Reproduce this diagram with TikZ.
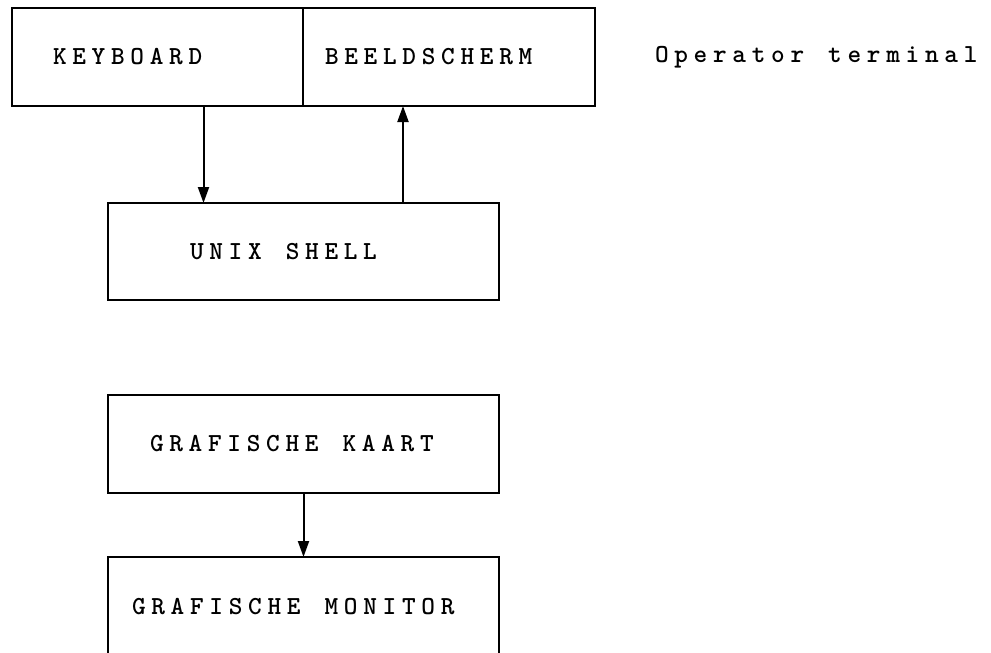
\documentclass[tikz,border=0pt]{standalone}
\usepackage{fontspec}
\usepackage{tikz}
\usetikzlibrary{arrows.meta,positioning}
\newfontfamily\typmachine{lmmonolt10-bold}[Extension=.otf,LetterSpace=22]
\newcommand{\tus}{\hspace{24pt}}

\begin{document}
\begin{tikzpicture}[>={Triangle[length=16pt,width=11pt]},x=1pt,y=-1pt]
\tikzset{
				blok/.style={
					draw,
					line width=2pt,
					outer sep=0pt,
					anchor=north west,
					align=left,
					minimum height=98pt,
					inner ysep=0pt,
					font=\typmachine\fontsize{26}{30}\selectfont
				},
				pijl/.style={->,line width=2pt}
			}
			\useasboundingbox (0,0) rectangle (991,653);
			\node[blok,inner xsep=41pt,text width=209pt] (kbd) at (12,8) {KEYBOARD};
			\node[blok,right=0pt of kbd,inner xsep=22pt,text width=248pt] (beeld) {BEELDSCHERM};
			\node[blok,draw=none,right=60pt of beeld,inner xsep=0pt] (term) {Operator\tus terminal};
			\node[blok,minimum height=97pt,inner xsep=82pt,text width=227pt] (shell) at (108,203) {UNIX\tus SHELL};
			\node[blok,inner xsep=42pt,text width=307pt] (kaart) at (108,395) {GRAFISCHE\tus KAART};
			\node[blok,minimum height=100pt,inner xsep=24pt,text width=343pt] (monitor) at (108,557) {GRAFISCHE\tus MONITOR};
			
			\draw[pijl] ([xshift=46pt]kbd.south) -- ([xshift=46pt]kbd.south |- shell.north);
			\draw[pijl] ([xshift=-46pt]beeld.south |- shell.north) -- ([xshift=-46pt]beeld.south);
			\draw[pijl] (kaart) -- (monitor);
\end{tikzpicture}
\end{document}
